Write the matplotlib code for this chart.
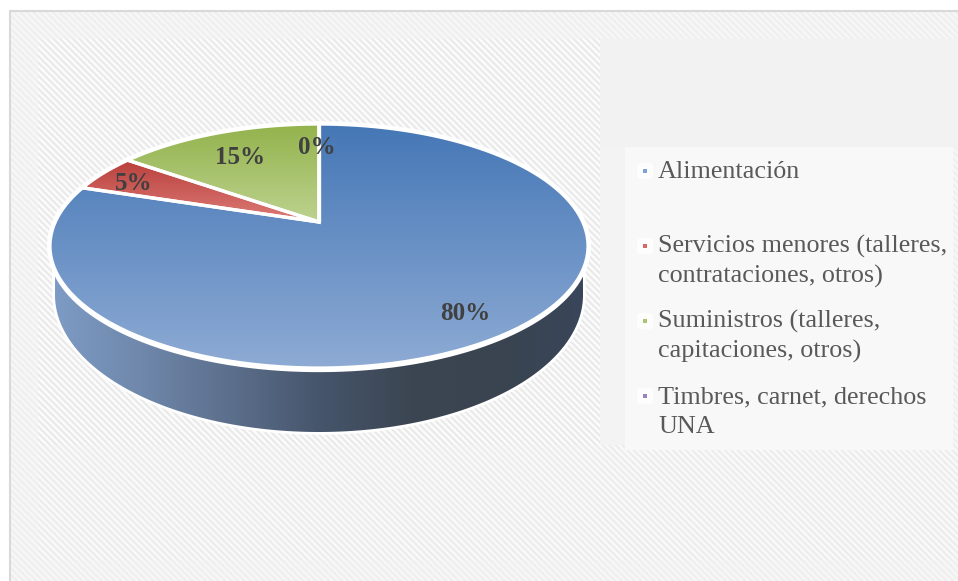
import numpy as np
import matplotlib
matplotlib.use('AGG')
import matplotlib.pyplot as plt
from matplotlib.colors import LinearSegmentedColormap
from matplotlib.patches import Polygon, Rectangle, FancyBboxPatch

# values
categories = ['Alimentación',
              'Servicios menores (talleres,\ncontrataciones, otros)',
              'Suministros (talleres,\ncapitaciones, otros)',
              'Timbres, carnet, derechos\nUNA']
values = [80, 5, 15, 0]

face_top = ['#4577b6', '#b9403c', '#93b34c', '#7b5ea0']
face_bottom = ['#8eabd4', '#dd7b76', '#bdd28f', '#a08cc0']
marker_colors = ['#7fa2d4', '#d9686a', '#a9c76f', '#9a84c0']
label_pos = [(465, 313), (134, 183), (240, 157), (317, 148)]
legend_y = [171, 246, 321, 396]

W, H = 958, 581
fig = plt.figure(figsize=(W / 100, H / 100), dpi=100)
ax = fig.add_axes([0, 0, 1, 1])
ax.set_xlim(0, W)
ax.set_ylim(H, 0)
ax.axis('off')


# diagonal stripes of the slide background
def stripes(x0, y0, x1, y1, light, dark, zorder=1):
    xx, yy = np.meshgrid(np.arange(x0, x1) + .5, np.arange(y0, y1) + .5)
    s = .5 + .5 * np.sin(2 * np.pi * (xx - yy) / 6.5)
    ax.imshow(light + (dark - light) * s, cmap='gray', vmin=0, vmax=255,
              extent=(x0, x1, y1, y0), interpolation='bilinear', zorder=zorder, aspect='auto')


stripes(10, 11, W, H, 247, 238)
stripes(38, 39, 600, 445, 253, 232, zorder=2)
stripes(38, 445, W, 560, 250, 235, zorder=2)
ax.add_patch(Rectangle((600, 39), W - 600, 108, fc='#f2f2f2', ec='none', zorder=2))
ax.add_patch(Rectangle((600, 147), 25, 298, fc='#f3f3f3', ec='none', zorder=2))
ax.add_patch(Rectangle((625, 147), 328, 303, fc='#f8f8f8', ec='none', zorder=3))

# frame
ax.plot([W, 10, 10], [11, 11, H], color='#d9d9d9', lw=1.5, zorder=4)

# pie geometry in pixels (perspective view of a circle)
cx, cy = 319, 222
a, b, c = 117.3, 0.197, 263.8


def top_rim(theta):
    u, v = np.sin(theta), np.cos(theta)
    w = 1 + b * v
    return cx + c * u / w, cy - a * v / w


def bottom_rim(theta):
    return cx + 264 * np.sin(theta), 295 - 137 * np.cos(theta)


edges = np.radians(np.cumsum([0] + values) * 3.6)


def face_poly(i):
    t = np.linspace(edges[i], edges[i + 1], 120)
    x, y = top_rim(t)
    return np.column_stack([np.r_[cx, x], np.r_[cy, y]])


# thick side of the first slice, only the part in front
t_side = np.linspace(max(edges[0], np.pi / 2), min(edges[1], 3 * np.pi / 2), 200)
xs, ys = bottom_rim(t_side)
xt, yt = top_rim(t_side[::-1])
side = np.column_stack([np.r_[xs, xt], np.r_[ys, yt]])

ax.add_patch(Polygon(side, closed=True, fc='white', ec='white', lw=4, zorder=5))
for i in range(len(values)):
    ax.add_patch(Polygon(face_poly(i), closed=True, fc='white', ec='white', lw=4, zorder=5))

side_cmap = LinearSegmentedColormap.from_list('side', ['#7e9cc6', '#6f88ab', '#5c6f8c', '#46556b', '#3c4653', '#3a4450', '#39465a'])
side_clip = Polygon(side, closed=True, transform=ax.transData, fc='none', ec='none')
ax.add_patch(side_clip)
im = ax.imshow(np.linspace(0, 1, 256)[None, :], cmap=side_cmap, extent=(50, 590, 440, 240),
               aspect='auto', zorder=6)
im.set_clip_path(side_clip)

# white band between the top face and the side
ax.plot(xt, yt + 2, color='white', lw=3, zorder=6.5)

for i in range(len(values)):
    poly = face_poly(i)
    clip = Polygon(poly, closed=True, transform=ax.transData, fc='none', ec='none')
    ax.add_patch(clip)
    cmap = LinearSegmentedColormap.from_list('f%d' % i, [face_top[i], face_bottom[i]])
    # each face runs its own vertical gradient over the whole pie or its height
    y0, y1 = (124, 368) if i == 0 else (poly[:, 1].min(), poly[:, 1].max())
    im = ax.imshow(np.linspace(0, 1, 256)[:, None], cmap=cmap, extent=(40, 600, y1, y0),
                   aspect='auto', zorder=7)
    im.set_clip_path(clip)
    ax.add_patch(Polygon(poly, closed=True, fc='none', ec='white', lw=2.4, zorder=8, joinstyle='miter'))

ax.set_xlim(0, W)
ax.set_ylim(H, 0)

# percentages
serif = ['Liberation Serif', 'DejaVu Serif']
for v, (x, y) in zip(values, label_pos):
    ax.text(x, y, '%d%%' % v, family=serif, fontsize=18, fontweight='bold', color='#404040',
            ha='center', va='center', zorder=9)

# legend
for name, col, y in zip(categories, marker_colors, legend_y):
    ax.add_patch(FancyBboxPatch((637, y - 8), 16, 16, boxstyle='round,pad=0,rounding_size=3',
                                fc='#fdfdfd', ec='none', zorder=4))
    ax.scatter([645], [y], marker='s', s=8, color=col, linewidths=0, zorder=5)
    for j, line in enumerate(name.split('\n')):
        ax.text(658, y + 7 + j * 30, line, family=serif, fontsize=18.8, color='#595959',
                ha='left', va='baseline', zorder=9)

fig.savefig('out.png', dpi=100, facecolor='white')
